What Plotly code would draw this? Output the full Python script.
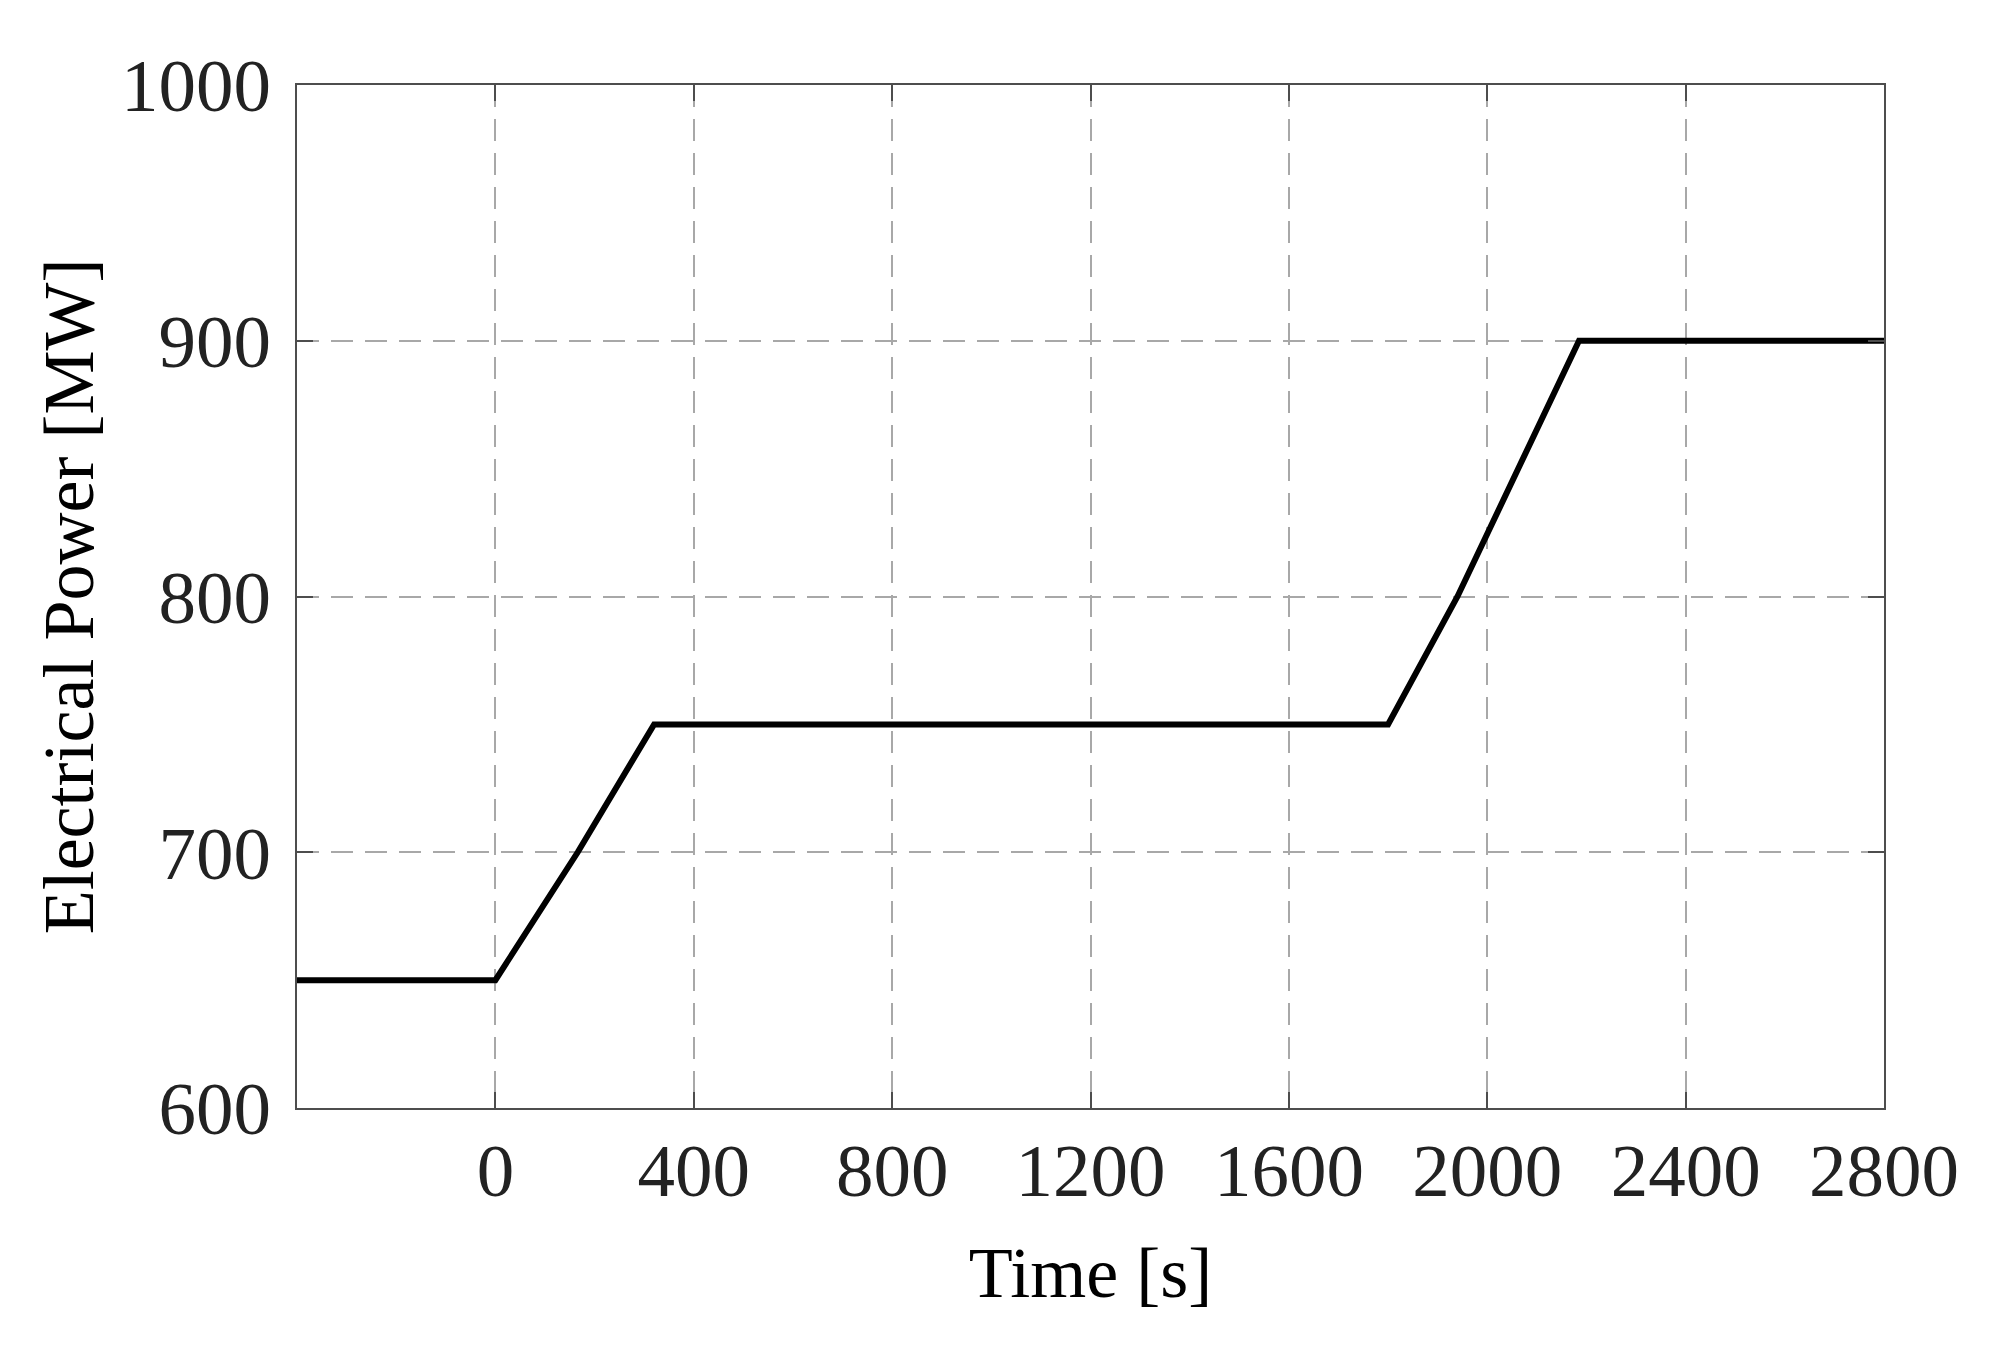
import plotly.graph_objects as go

# Data
time_s = [-400, 0, 166, 320, 1800, 1940, 2185, 2800]
power_mw = [650, 650, 700, 750, 750, 800, 900, 900]

x_ticks = [0, 400, 800, 1200, 1600, 2000, 2400, 2800]
y_ticks = [600, 700, 800, 900, 1000]

FONT = "Liberation Serif"

fig = go.Figure()
fig.add_trace(go.Scatter(
    x=time_s, y=power_mw, mode="lines",
    line=dict(color="black", width=6),
    showlegend=False,
))

axis_common = dict(
    showline=True, linecolor="#4d4d4d", linewidth=2,
    mirror="ticks", ticks="inside", ticklen=16, tickwidth=2, tickcolor="#4d4d4d",
    showgrid=True, gridcolor="#a8a8a8", gridwidth=2, griddash="22px,12px",
    zeroline=False,
    tickfont=dict(family=FONT, size=75, color="#222222"),
)

fig.update_xaxes(
    range=[-400, 2800], tickvals=x_ticks, ticktext=[str(v) for v in x_ticks],
    ticklabelstandoff=-4,
    title=dict(text="Time [s]", font=dict(family=FONT, size=72, color="black"), standoff=36),
    **axis_common,
)
fig.update_yaxes(
    range=[600, 1000], tickvals=y_ticks, ticktext=[str(v) for v in y_ticks],
    ticklabelstandoff=9,
    title=dict(text="Electrical Power [MW]", font=dict(family=FONT, size=72, color="black"), standoff=4),
    **axis_common,
)

fig.update_layout(
    width=2008, height=1367, autosize=False,
    margin=dict(l=289, r=132, t=77, b=267),
    plot_bgcolor="white", paper_bgcolor="white",
)

fig.write_html("out.html")
